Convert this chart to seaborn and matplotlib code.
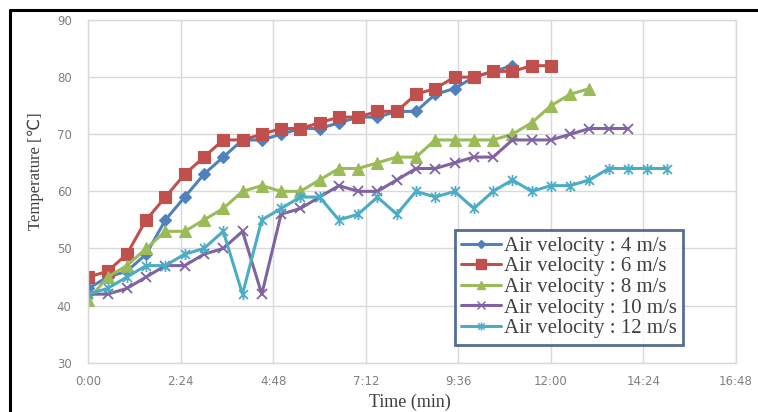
import numpy as np
import pandas as pd
import matplotlib
matplotlib.use("Agg")
import matplotlib.pyplot as plt
from matplotlib.path import Path
from matplotlib.lines import Line2D
import seaborn as sns

# ---- data (temperature in °C, one reading every 30 s) ----
sample_step_min = 0.5
temp_4 = [43, 45, 46, 49, 55, 59, 63, 66, 69, 69, 70, 71, 71, 72, 73, 73, 74, 74, 77, 78, 80, 81, 82]
temp_6 = [45, 46, 49, 55, 59, 63, 66, 69, 69, 70, 71, 71, 72, 73, 73, 74, 74, 77, 78, 80, 80, 81, 81, 82, 82]
temp_8 = [41, 45, 47, 50, 53, 53, 55, 57, 60, 61, 60, 60, 62, 64, 64, 65, 66, 66, 69, 69, 69, 69, 70, 72, 75, 77, 78]
temp_10 = [42, 42, 43, 45, 47, 47, 49, 50, 53, 42, 56, 57, 59, 61, 60, 60, 62, 64, 64, 65, 66, 66, 69, 69, 69, 70, 71, 71, 71]
temp_12 = [42, 43, 45, 47, 47, 49, 50, 53, 42, 55, 57, 59, 59, 55, 56, 59, 56, 60, 59, 60, 57, 60, 62, 60, 61, 61, 62, 64, 64, 64, 64]

labels = ["Air velocity : 4 m/s", "Air velocity : 6 m/s", "Air velocity : 8 m/s",
          "Air velocity : 10 m/s", "Air velocity : 12 m/s"]
x_tick_minutes = [0, 2.4, 4.8, 7.2, 9.6, 12.0, 14.4, 16.8]
x_tick_labels = ["0:00", "2:24", "4:48", "7:12", "9:36", "12:00", "14:24", "16:48"]
y_ticks = [30, 40, 50, 60, 70, 80, 90]

colors = ["#4F81BD", "#C0504D", "#9BBB59", "#8064A2", "#4BACC6"]

star = Path([(-1, -1), (1, 1), (-1, 1), (1, -1), (0, -1.25), (0, 1.25)],
            [Path.MOVETO, Path.LINETO, Path.MOVETO, Path.LINETO, Path.MOVETO, Path.LINETO])
markers = ["D", "s", "^", "x", star]
msizes = [6, 9, 8, 7, 8]

rows = []
for lab, series in zip(labels, [temp_4, temp_6, temp_8, temp_10, temp_12]):
    for i, v in enumerate(series):
        rows.append({"series": lab, "time": i * sample_step_min, "temp": v})
df = pd.DataFrame(rows)

sns.set_theme(style="white")
plt.rcParams["font.family"] = ["DejaVu Sans"]

fig = plt.figure(figsize=(7.58, 4.12), dpi=100)
ax = fig.add_axes([88.3 / 758, 1 - 362.7 / 412, (736 - 88.3) / 758, (362.7 - 20) / 412])

for lab, col, mk, ms in zip(labels, colors, markers, msizes):
    sub = df[df["series"] == lab]
    sns.lineplot(data=sub, x="time", y="temp", ax=ax, color=col, linewidth=2.2,
                 marker=mk, markersize=ms, markeredgecolor=col, markerfacecolor=col,
                 markeredgewidth=1.3 if (mk == "x" or mk is star) else 0.8,
                 label=lab, legend=False)

ax.set_xlim(0, 16.8)
ax.set_ylim(30, 90)
ax.set_xticks(x_tick_minutes)
ax.set_xticklabels(x_tick_labels)
ax.set_yticks(y_ticks)
ax.tick_params(axis="both", labelsize=8.5, colors="#7F7F7F", length=0)
ax.tick_params(axis="y", pad=12)
ax.tick_params(axis="x", pad=9)
ax.grid(True, color="#D9D9D9", linewidth=1)
for s in ax.spines.values():
    s.set_color("#D9D9D9")
    s.set_linewidth(1)

ax.set_xlabel("Time (min)", family=["Liberation Serif"], fontsize=13, color="#404040")
ax.xaxis.set_label_coords(0.497, -0.09)
ax.set_ylabel("Temperature [\u2103]", family=["Liberation Serif", "DejaVu Sans"], fontsize=12,
              color="#404040")
ax.yaxis.set_label_coords(-0.069, 0.56)

handles = [Line2D([0], [0], color=c, lw=2.2, marker=m, markersize=ms * 0.75,
                  markeredgecolor=c, markerfacecolor=c)
           for c, m, ms in zip(colors, markers, msizes)]
leg = fig.legend(handles, labels, loc="upper left", bbox_to_anchor=(455 / 758, 1 - 230 / 412),
                 prop={"family": "Liberation Serif", "size": 15}, frameon=True, fancybox=False,
                 handlelength=1.9, handletextpad=0.15, labelspacing=0.05, borderpad=0.3,
                 borderaxespad=0)
leg.get_frame().set_edgecolor("#2A4A7A")
leg.get_frame().set_linewidth(2)
for t in leg.get_texts():
    t.set_color("#404040")

# outer frame (left and top edges visible in the reference)
fig.add_artist(Line2D([10 / 758, 10 / 758], [0, 1 - 10 / 412], transform=fig.transFigure,
                      color="black", lw=2.2))
fig.add_artist(Line2D([10 / 758, 1], [1 - 10 / 412, 1 - 10 / 412], transform=fig.transFigure,
                      color="black", lw=2.2))

fig.savefig("out.png", dpi=100)
